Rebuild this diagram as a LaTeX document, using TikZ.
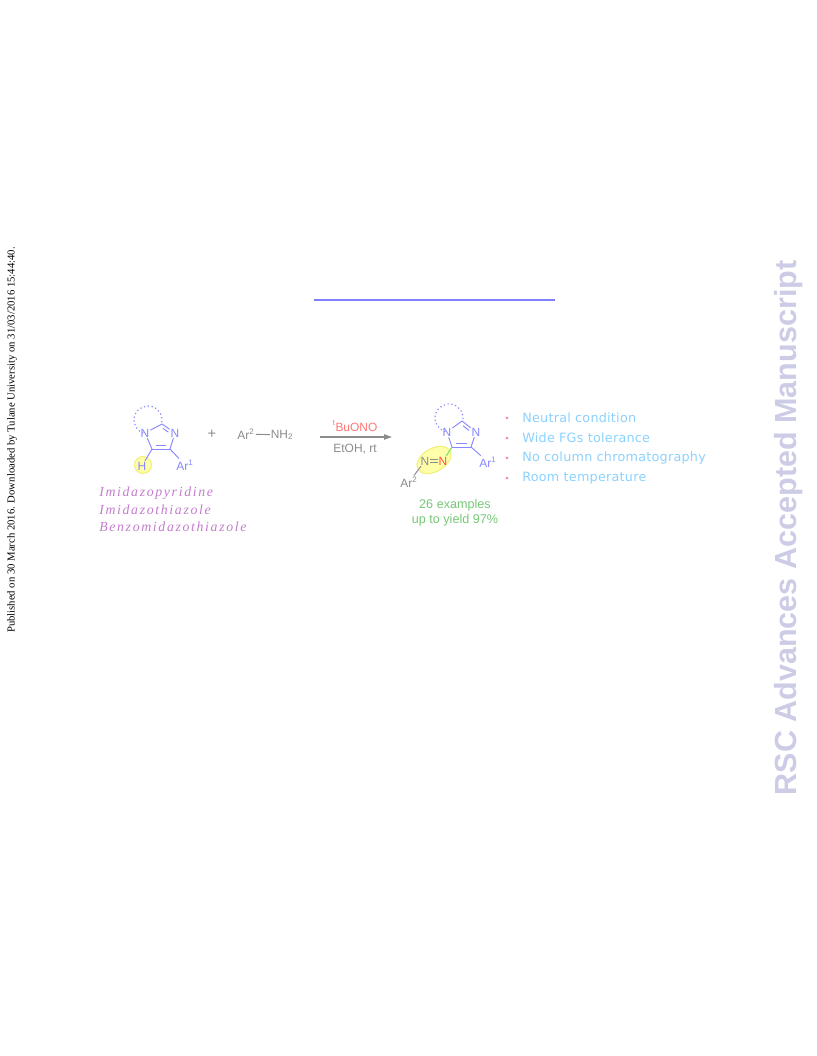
\documentclass[tikz,border=0pt]{standalone}
\usepackage{fontspec}
\setmainfont{Liberation Sans}
\newfontfamily\timesfont{Liberation Serif}
\newfontfamily\namefont{Liberation Serif}[LetterSpace=12]
\newfontfamily\bulletfont{DejaVu Sans}[LetterSpace=2]
\usetikzlibrary{arrows.meta,calc}
\definecolor{chemblue}{RGB}{135,135,255}
\definecolor{chemgrey}{RGB}{140,140,140}
\definecolor{nred}{RGB}{255,80,80}
\definecolor{reagentred}{RGB}{255,120,120}
\definecolor{bondgreen}{RGB}{120,225,120}
\definecolor{yieldgreen}{RGB}{120,200,120}
\definecolor{bullettext}{RGB}{140,210,255}
\definecolor{bulletdot}{RGB}{240,130,150}
\definecolor{namepurple}{RGB}{195,125,205}
\definecolor{rulecolor}{RGB}{128,128,255}
\definecolor{wmcolor}{RGB}{204,204,230}
\definecolor{hlfill}{RGB}{255,255,170}
\definecolor{hledge}{RGB}{240,240,120}
\begin{document}
\begin{tikzpicture}[x=0.75bp,y=-0.75bp,
  atom/.style={inner sep=0.6pt, font=\fontsize{9}{10}\selectfont, text=chemblue},
  bond/.style={draw=chemblue, line width=0.7bp},
  greybond/.style={draw=chemgrey, line width=0.7bp},
  ringdots/.style={draw=chemblue, line width=0.9bp, dash pattern=on 0.9bp off 2bp},
  greytext/.style={inner sep=0.6pt, font=\fontsize{9}{11}\selectfont, text=chemgrey},
  bullettxt/.style={anchor=west, inner sep=0pt, font=\bulletfont\fontsize{9.6}{11}\selectfont, text=bullettext},
  yieldtxt/.style={inner sep=0pt, font=\fontsize{9.5}{11}\selectfont, text=yieldgreen},
  nametxt/.style={anchor=west, inner sep=0pt, font=\namefont\itshape\fontsize{10.4}{12}\selectfont, text=namepurple},
  highlight/.style={fill=hlfill, draw=hledge, line width=0.8bp}]
\useasboundingbox (0,0) rectangle (816,1056);
\fill[white] (0,0) rectangle (816,1056);

% side texts
\node[rotate=90, inner sep=0pt, font=\timesfont\fontsize{8.05}{9}\selectfont] (pub) at (12,440)
  {Published on 30 March 2016. Downloaded by Tulane University on 31/03/2016 15:44:40.};
\node[rotate=90, inner sep=0pt, font=\fontsize{23}{26}\selectfont\bfseries, text=wmcolor] (rsc) at (789,528)
  {RSC Advances Accepted Manuscript};

% top rule
\coordinate (ruleA) at (314,300);
\coordinate (ruleB) at (555,300);
\draw[rulecolor, line width=1.4bp] (ruleA) -- (ruleB);

% ---------- left molecule ----------
\draw[highlight] (143,465) circle (8.5);
\node[atom] (N1) at (145,433) {N};
\node[atom] (N3) at (175,433) {N};
\coordinate (C2) at (162,424);
\coordinate (C5) at (152,449);
\coordinate (C4) at (170,449);
\node[atom] (H) at (142,466) {H};
\node[atom] (Ar1) at (185,465) {Ar\textsuperscript{1}};
\draw[bond] (N1) -- (C5);
\draw[bond] (C5) -- (C4);
\draw[bond] ($(C5)!0.2!(C4)+(0,-3.2)$) -- ($(C4)!0.2!(C5)+(0,-3.2)$);
\draw[bond] (C4) -- (N3);
\draw[bond] (N3) -- (C2);
\draw[bond] ($(C2)!0.2!(N3)+(-1.7,2.6)$) -- ($(C2)!0.62!(N3)+(-1.7,2.6)$);
\draw[bond] (C2) -- (N1);
\draw[bond] (C5) -- (H);
\draw[bond] (C4) -- (Ar1);
\draw[ringdots] (148,420) ++(110:14) arc[start angle=110, end angle=376, radius=14];

% ---------- reagent ----------
\node[greytext, font=\fontsize{11}{12}\selectfont] (plus) at (212,434) {+};
\node[greytext] (ArB) at (246,434) {Ar\textsuperscript{2}};
\node[greytext] (NH2) at (282,435) {NH\textsubscript{2}};
\draw[greybond] (ArB) -- (NH2);

% ---------- arrow ----------
\coordinate (arrA) at (320,437);
\coordinate (arrB) at (392,437);
\draw[chemgrey, line width=0.9bp, -{Triangle[length=6bp,width=4bp]}] (arrA) -- (arrB);
\node[greytext, text=reagentred] (tbu) at (355,426) {\textsuperscript{t}BuONO};
\node[greytext] (etoh) at (355,449) {EtOH, rt};

% ---------- right molecule ----------
\draw[highlight, rotate around={30:(434,460)}] (434,460) ellipse (18.5 and 11.5);
\node[atom] (N1r) at (447,432) {N};
\node[atom] (N3r) at (476,432) {N};
\coordinate (C2r) at (462,421);
\coordinate (C5r) at (452,447);
\coordinate (C4r) at (471,447);
\node[atom] (Ar1r) at (488,462) {Ar\textsuperscript{1}};
\node[atom, text=nred] (Nr) at (443,461) {N};
\node[atom, text=chemgrey] (Ng) at (425,461) {N};
\node[atom, text=chemgrey] (Ar2r) at (409,482) {Ar\textsuperscript{2}};
\draw[bond] (N1r) -- (C5r);
\draw[bond] (C5r) -- (C4r);
\draw[bond] ($(C5r)!0.2!(C4r)+(0,-3.2)$) -- ($(C4r)!0.2!(C5r)+(0,-3.2)$);
\draw[bond] (C4r) -- (N3r);
\draw[bond] (N3r) -- (C2r);
\draw[bond] ($(C2r)!0.2!(N3r)+(-1.7,2.6)$) -- ($(C2r)!0.62!(N3r)+(-1.7,2.6)$);
\draw[bond] (C2r) -- (N1r);
\draw[bond] (C4r) -- (Ar1r);
\draw[draw=bondgreen, line width=0.8bp] (C5r) -- (Nr);
\draw[greybond] ([yshift=1.1bp]Ng.east) -- ([yshift=1.1bp]Nr.west);
\draw[greybond] ([yshift=-1.1bp]Ng.east) -- ([yshift=-1.1bp]Nr.west);
\draw[greybond] (Ng) -- (Ar2r);
\draw[ringdots] (449,418) ++(105:14) arc[start angle=105, end angle=373, radius=14];

\node[yieldtxt] (ex) at (455,505) {26 examples};
\node[yieldtxt] (yl) at (455,520) {up to yield 97\%};

% ---------- bullets ----------
\foreach \y/\t/\n in {418/Neutral condition/b1, 438/Wide FGs tolerance/b2,
                     458/No column chromatography/b3, 478/Room temperature/b4}{
  \fill[bulletdot] (507,\y) circle (1.3);
  \node[bullettxt] (\n) at (522,\y) {\t};
}

% ---------- names ----------
\node[nametxt] (nm1) at (99,493) {Imidazopyridine};
\node[nametxt] (nm2) at (99,510) {Imidazothiazole};
\node[nametxt] (nm3) at (99,527) {Benzomidazothiazole};
\end{tikzpicture}
\end{document}
